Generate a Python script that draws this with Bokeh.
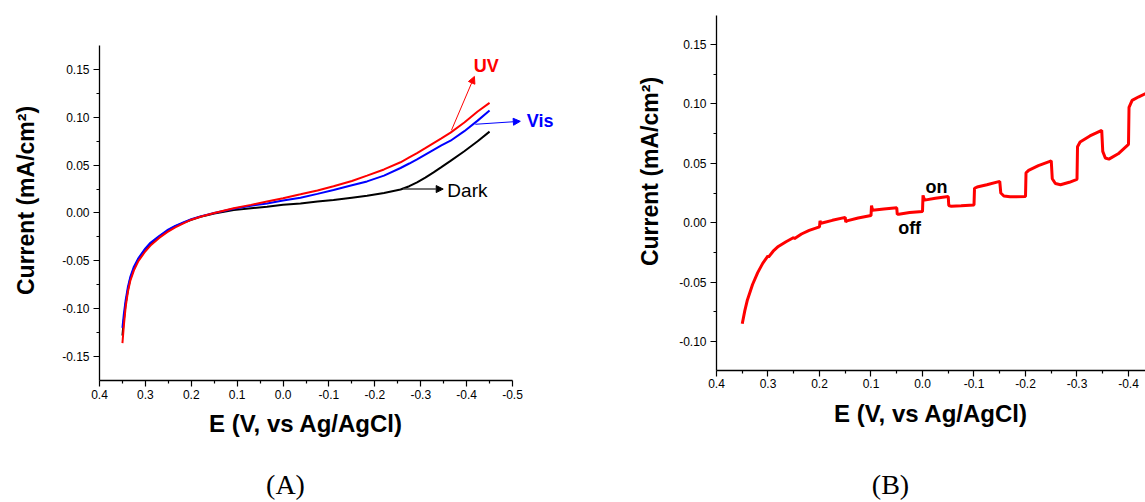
import math
from bokeh.plotting import figure
from bokeh.models import Range1d, FixedTicker, Arrow, NormalHead, Label
from bokeh.layouts import row
from bokeh.embed import file_html
from bokeh.resources import INLINE

# ---------------- Panel A data ----------------
E_a = [0.350, 0.347, 0.343, 0.338, 0.333, 0.325, 0.315, 0.300, 0.289, 0.270,
       0.2525, 0.235, 0.216, 0.200, 0.180, 0.150, 0.1075, 0.070, 0.035, 0.000,
       -0.038, -0.075, -0.110, -0.150, -0.183, -0.220, -0.256, -0.275, -0.292, -0.310,
       -0.328, -0.345, -0.365, -0.395, -0.424, -0.450]
I_uv = [-0.136, -0.118, -0.098, -0.082, -0.071, -0.060, -0.050, -0.040, -0.034, -0.026,
        -0.020, -0.015, -0.0105, -0.007, -0.004, 0.000, 0.005, 0.0085, 0.012, 0.0155,
        0.0195, 0.0235, 0.028, 0.0335, 0.039, 0.0455, 0.053, 0.058, 0.0625, 0.0677,
        0.073, 0.078, 0.084, 0.0945, 0.106, 0.115]
I_vis = [-0.120, -0.106, -0.091, -0.077, -0.067, -0.056, -0.047, -0.037, -0.031, -0.024,
         -0.018, -0.0135, -0.0095, -0.0065, -0.0035, 0.000, 0.0045, 0.0075, 0.010, 0.013,
         0.016, 0.020, 0.024, 0.029, 0.033, 0.039, 0.047, 0.0517, 0.056, 0.061,
         0.066, 0.0706, 0.0755, 0.0855, 0.0965, 0.107]
I_dark = [-0.128, -0.112, -0.095, -0.080, -0.069, -0.058, -0.048, -0.038, -0.032, -0.025,
          -0.019, -0.014, -0.010, -0.007, -0.004, -0.0005, 0.003, 0.005, 0.0066, 0.0085,
          0.010, 0.012, 0.0135, 0.016, 0.018, 0.021, 0.0245, 0.028, 0.032, 0.037,
          0.0425, 0.048, 0.0545, 0.0645, 0.075, 0.085]

# ---------------- Panel B data ----------------
E_b = [0.350, 0.345, 0.340, 0.330, 0.320, 0.310, 0.300, 0.299, 0.290, 0.280,
       0.265, 0.250, 0.249, 0.235, 0.220, 0.200, 0.199, 0.197, 0.175, 0.150,
       0.149, 0.147, 0.125, 0.100, 0.099, 0.097, 0.075, 0.050, 0.049, 0.046,
       0.025, 0.000, -0.001, -0.004, -0.025, -0.050, -0.051, -0.056, -0.075, -0.100,
       -0.101, -0.106, -0.125, -0.150, -0.152, -0.158, -0.170, -0.200, -0.201, -0.206,
       -0.225, -0.250, -0.252, -0.258, -0.268, -0.285, -0.300, -0.301, -0.306, -0.325,
       -0.348, -0.350, -0.355, -0.362, -0.380, -0.400, -0.401, -0.407, -0.420, -0.440,
       -0.450]
I_b = [-0.085, -0.074, -0.065, -0.052, -0.042, -0.034, -0.028, -0.029, -0.024, -0.020,
       -0.016, -0.0125, -0.0135, -0.0095, -0.0065, -0.0035, 0.0015, -0.0005, 0.002, 0.0045,
       0.0005, 0.0015, 0.004, 0.006, 0.0145, 0.0105, 0.0115, 0.0125, 0.007, 0.0072,
       0.0085, 0.0095, 0.023, 0.019, 0.0205, 0.022, 0.0145, 0.0138, 0.0142, 0.015,
       0.029, 0.030, 0.032, 0.0348, 0.025, 0.0225, 0.0218, 0.022, 0.042, 0.044,
       0.048, 0.052, 0.037, 0.033, 0.032, 0.034, 0.0365, 0.064, 0.068, 0.073,
       0.0777, 0.060, 0.0545, 0.0535, 0.058, 0.066, 0.097, 0.103, 0.106, 0.110,
       0.112]

# ---------------- ticks ----------------
x_ticks = [0.4, 0.3, 0.2, 0.1, 0.0, -0.1, -0.2, -0.3, -0.4, -0.5]
x_tick_labels = ["0.4", "0.3", "0.2", "0.1", "0.0", "-0.1", "-0.2", "-0.3", "-0.4", "-0.5"]
x_minor = [0.35, 0.25, 0.15, 0.05, -0.05, -0.15, -0.25, -0.35, -0.45]
ya_ticks = [-0.15, -0.10, -0.05, 0.0, 0.05, 0.10, 0.15]
ya_tick_labels = ["-0.15", "-0.10", "-0.05", "0.00", "0.05", "0.10", "0.15"]
ya_minor = [-0.125, -0.075, -0.025, 0.025, 0.075, 0.125]
yb_ticks = [-0.10, -0.05, 0.0, 0.05, 0.10, 0.15]
yb_tick_labels = ["-0.10", "-0.05", "0.00", "0.05", "0.10", "0.15"]
yb_minor = [-0.075, -0.025, 0.025, 0.075, 0.125]

# axis extents (data units)
xa_bounds = (-0.5, 0.4)
ya_bounds = (-0.175, 0.175)
xb_bounds = (-0.5, 0.4)
yb_bounds = (-0.1244, 0.1744)

# ---------------- annotations ----------------
uv_arrow = (-0.367, 0.0865, -0.417, 0.1427)
uv_text = (-0.443, 0.154)
vis_arrow = (-0.419, 0.0927, -0.517, 0.0958)
vis_text = (-0.531, 0.0958)
dark_arrow = (-0.262, 0.025, -0.349, 0.025)
dark_text = (-0.358, 0.023)
on_text = (-0.027, 0.030)
off_text = (0.025, -0.0042)
caption_a = (-0.0053, -0.2837)
caption_b = (0.0621, -0.2204)
ytitle_a = (0.5591, 0.0131)
ytitle_b = (0.5282, 0.0431)

FONT = "Liberation Sans"
XLABEL = "E (V, vs Ag/AgCl)"
YLABEL = "Current (mA/cm\u00b2)"


def style(p, xt, xtl, xm, yt, ytl, ym, xb, yb):
    p.xgrid.visible = False
    p.ygrid.visible = False
    p.outline_line_color = None
    p.xaxis.ticker = FixedTicker(ticks=xt, minor_ticks=xm)
    p.yaxis.ticker = FixedTicker(ticks=yt, minor_ticks=ym)
    p.xaxis.major_label_overrides = {t: l for t, l in zip(xt, xtl)}
    p.yaxis.major_label_overrides = {t: l for t, l in zip(yt, ytl)}
    for ax in (p.xaxis[0], p.yaxis[0]):
        ax.axis_line_color = "black"
        ax.axis_line_width = 1.3
        ax.major_tick_line_color = "black"
        ax.minor_tick_line_color = "black"
        ax.major_tick_line_width = 1.2
        ax.minor_tick_line_width = 1.2
        ax.major_tick_in = 0
        ax.major_tick_out = 6
        ax.minor_tick_in = 0
        ax.minor_tick_out = 3
        ax.major_label_text_font = FONT
        ax.major_label_text_font_size = "12px"
        ax.major_label_text_color = "black"
        ax.axis_label_text_font = FONT
        ax.axis_label_text_font_style = "bold"
        ax.axis_label_text_color = "black"
    p.xaxis.axis_label = XLABEL
    p.xaxis.axis_label_text_font_size = "24px"
    p.xaxis.major_label_standoff = 3
    p.yaxis.major_label_standoff = 4
    p.xaxis.axis_label_standoff = 8
    p.xaxis.bounds = xb
    p.yaxis.bounds = yb
    # axes sit inside the full-canvas frame, at the axis corner
    p.xaxis.fixed_location = yb[0]
    p.yaxis.fixed_location = xb[1]


def ytitle(p, pos):
    p.add_layout(Label(x=pos[0], y=pos[1], text=YLABEL, angle=math.pi / 2,
                       text_font=FONT, text_font_style="bold", text_font_size="23px",
                       text_color="black", text_align="center", text_baseline="middle"))


# ---------------- Panel A ----------------
pa = figure(width=600, height=502,
            x_range=Range1d(0.61573, -0.69174), y_range=Range1d(-0.30246, 0.22201),
            min_border=0, min_border_left=0, min_border_right=0,
            min_border_top=0, min_border_bottom=0,
            output_backend="svg", toolbar_location=None,
            background_fill_color="white", border_fill_color="white")
style(pa, x_ticks, x_tick_labels, x_minor, ya_ticks, ya_tick_labels, ya_minor,
      xa_bounds, ya_bounds)
ytitle(pa, ytitle_a)

pa.line(E_a, I_dark, line_color="black", line_width=2)
pa.line(E_a, I_vis, line_color="#0000ff", line_width=2)
pa.line(E_a, I_uv, line_color="#ff0000", line_width=2)

pa.add_layout(Arrow(end=NormalHead(size=7, fill_color="#ff0000", line_color="#ff0000"),
                    x_start=uv_arrow[0], y_start=uv_arrow[1], x_end=uv_arrow[2], y_end=uv_arrow[3],
                    line_color="#ff0000", line_width=1))
pa.add_layout(Arrow(end=NormalHead(size=7, fill_color="#0000ff", line_color="#0000ff"),
                    x_start=vis_arrow[0], y_start=vis_arrow[1], x_end=vis_arrow[2], y_end=vis_arrow[3],
                    line_color="#0000ff", line_width=1))
pa.add_layout(Arrow(end=NormalHead(size=7, fill_color="black", line_color="black"),
                    x_start=dark_arrow[0], y_start=dark_arrow[1], x_end=dark_arrow[2], y_end=dark_arrow[3],
                    line_color="#444444", line_width=1.5))
pa.add_layout(Label(x=uv_text[0], y=uv_text[1], text="UV", text_color="#ff0000",
                    text_font=FONT, text_font_style="bold", text_font_size="18px",
                    text_align="center", text_baseline="middle"))
pa.add_layout(Label(x=vis_text[0], y=vis_text[1], text="Vis", text_color="#0000ff",
                    text_font=FONT, text_font_style="bold", text_font_size="18px",
                    text_align="left", text_baseline="middle"))
pa.add_layout(Label(x=dark_text[0], y=dark_text[1], text="Dark", text_color="black",
                    text_font=FONT, text_font_size="19px",
                    text_align="left", text_baseline="middle"))
pa.add_layout(Label(x=caption_a[0], y=caption_a[1], text="(A)", text_color="black",
                    text_font="Liberation Serif", text_font_size="28px",
                    text_align="center", text_baseline="middle"))

# ---------------- Panel B ----------------
pb = figure(width=545, height=502,
            x_range=Range1d(0.62524, -0.43301), y_range=Range1d(-0.23552, 0.18704),
            min_border=0, min_border_left=0, min_border_right=0,
            min_border_top=0, min_border_bottom=0,
            output_backend="svg", toolbar_location=None,
            background_fill_color="white", border_fill_color="white")
style(pb, x_ticks, x_tick_labels, x_minor, yb_ticks, yb_tick_labels, yb_minor,
      xb_bounds, yb_bounds)
ytitle(pb, ytitle_b)

pb.line(E_b, I_b, line_color="#ff0000", line_width=3)
pb.add_layout(Label(x=on_text[0], y=on_text[1], text="on", text_color="black",
                    text_font=FONT, text_font_style="bold", text_font_size="18px",
                    text_align="center", text_baseline="middle"))
pb.add_layout(Label(x=off_text[0], y=off_text[1], text="off", text_color="black",
                    text_font=FONT, text_font_style="bold", text_font_size="18px",
                    text_align="center", text_baseline="middle"))
pb.add_layout(Label(x=caption_b[0], y=caption_b[1], text="(B)", text_color="black",
                    text_font="Liberation Serif", text_font_size="28px",
                    text_align="center", text_baseline="middle"))

layout = row(pa, pb)
open("out.html", "w").write(file_html(layout, INLINE))
